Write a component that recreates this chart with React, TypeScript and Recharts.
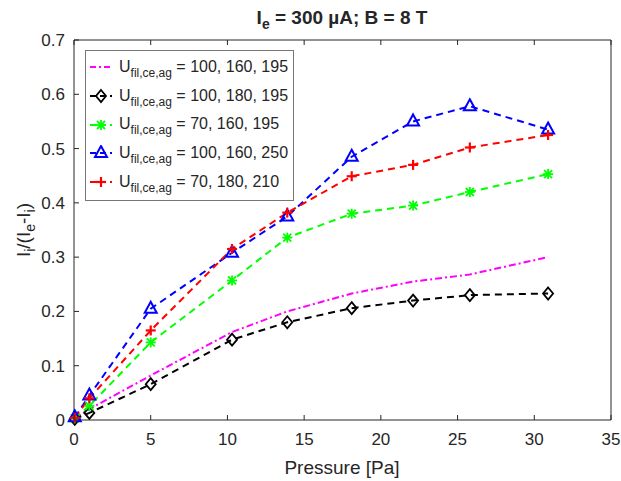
import { LineChart, Line, XAxis, YAxis, Legend, Customized } from "recharts";

const pressure = [0.05, 1, 5, 10.3, 13.9, 18.1, 22.1, 25.8, 30.9];
const uMagenta = [0.003, 0.02, 0.082, 0.162, 0.2, 0.233, 0.255, 0.268, 0.3];
const uBlack = [0.002, 0.013, 0.066, 0.148, 0.18, 0.206, 0.22, 0.23, 0.233];
const uGreen = [0.003, 0.026, 0.143, 0.257, 0.336, 0.38, 0.395, 0.42, 0.453];
const uBlue = [0.005, 0.045, 0.205, 0.308, 0.375, 0.485, 0.55, 0.578, 0.535];
const uRed = [0.004, 0.04, 0.165, 0.315, 0.382, 0.449, 0.47, 0.502, 0.525];

const legendLabels = ["100, 160, 195", "100, 180, 195", "70, 160, 195", "100, 160, 250", "70, 180, 210"];
const xTicks = [0, 5, 10, 15, 20, 25, 30, 35];
const yTicks = [0, 0.1, 0.2, 0.3, 0.4, 0.5, 0.6, 0.7];

const FONT = "'Liberation Sans', Arial, Helvetica, sans-serif";
const INK = "#262626";
const X_MARGIN = 13;
const Y_MARGIN = 9;

const chartData = pressure.map((p, i) => ({
  p,
  magenta: uMagenta[i],
  black: uBlack[i],
  green: uGreen[i],
  blue: uBlue[i],
  red: uRed[i],
}));

type MarkerKind = "none" | "diamond" | "asterisk" | "triangle" | "plus";

const series: { key: string; color: string; marker: MarkerKind; dash: string }[] = [
  { key: "magenta", color: "#ff00ff", marker: "none", dash: "7 3 2 3" },
  { key: "black", color: "#000000", marker: "diamond", dash: "7 5" },
  { key: "green", color: "#00ff00", marker: "asterisk", dash: "7 5" },
  { key: "blue", color: "#0000ff", marker: "triangle", dash: "7 5" },
  { key: "red", color: "#ff0000", marker: "plus", dash: "7 5" },
];

function Marker({ kind, cx, cy, color }: { kind: MarkerKind; cx: number; cy: number; color: string }) {
  if (kind === "diamond") {
    return (
      <polygon
        points={`${cx},${cy - 6} ${cx + 5},${cy} ${cx},${cy + 6} ${cx - 5},${cy}`}
        fill="none"
        stroke={color}
        strokeWidth={1.8}
      />
    );
  }
  if (kind === "triangle") {
    return (
      <polygon
        points={`${cx},${cy - 7} ${cx + 6},${cy + 4} ${cx - 6},${cy + 4}`}
        fill="none"
        stroke={color}
        strokeWidth={2}
      />
    );
  }
  if (kind === "plus") {
    return (
      <g stroke={color} strokeWidth={2.2}>
        <line x1={cx - 5} x2={cx + 5} y1={cy} y2={cy} />
        <line x1={cx} x2={cx} y1={cy - 5} y2={cy + 5} />
      </g>
    );
  }
  if (kind === "asterisk") {
    return (
      <g stroke={color} strokeWidth={1.8}>
        <line x1={cx - 5} x2={cx + 5} y1={cy} y2={cy} />
        <line x1={cx} x2={cx} y1={cy - 5} y2={cy + 5} />
        <line x1={cx - 4} x2={cx + 4} y1={cy - 4} y2={cy + 4} />
        <line x1={cx - 4} x2={cx + 4} y1={cy + 4} y2={cy - 4} />
      </g>
    );
  }
  return null;
}

const renderDot = (kind: MarkerKind, color: string) => (props: any) => (
  <g key={`${kind}-${props.index}`}>
    <Marker kind={kind} cx={props.cx} cy={props.cy} color={color} />
  </g>
);

const BottomTick = (props: any) => {
  const { x, y, payload } = props;
  const axisY = y - X_MARGIN;
  return (
    <g>
      <line x1={x} x2={x} y1={axisY} y2={axisY - 5} stroke={INK} />
      <text x={x} y={y} dy="0.71em" textAnchor="middle" fontSize={17} fill={INK} fontFamily={FONT}>
        {payload.value}
      </text>
    </g>
  );
};

const TopTick = (props: any) => (
  <line x1={props.x} x2={props.x} y1={props.y} y2={props.y + 5} stroke={INK} />
);

const LeftTick = (props: any) => {
  const { x, y, payload } = props;
  const axisX = x + Y_MARGIN;
  return (
    <g>
      <line x1={axisX} x2={axisX + 5} y1={y} y2={y} stroke={INK} />
      <text x={x} y={y} dy="0.355em" textAnchor="end" fontSize={17} fill={INK} fontFamily={FONT}>
        {String(payload.value)}
      </text>
    </g>
  );
};

const RightTick = (props: any) => (
  <line x1={props.x} x2={props.x - 5} y1={props.y} y2={props.y} stroke={INK} />
);

function LegendBox() {
  return (
    <div
      style={{
        border: "1px solid #777",
        background: "#fff",
        padding: "2px 5px 4px 3px",
        fontFamily: FONT,
        color: INK,
        whiteSpace: "nowrap",
      }}
    >
      {series.map((s, i) => (
        <div key={s.key} style={{ height: 28.7, display: "flex", alignItems: "center" }}>
          <svg width={24} height={16}>
            <line x1={1} x2={23} y1={8} y2={8} stroke={s.color} strokeWidth={2} strokeDasharray={s.marker === "none" ? "6 3 2 3" : "6 4"} />
            <Marker kind={s.marker} cx={12} cy={8} color={s.color} />
          </svg>
          <span style={{ marginLeft: 6, fontSize: 16, lineHeight: "16px" }}>
            U
            <span style={{ fontSize: 12, position: "relative", top: 5 }}>fil,ce,ag</span> = {legendLabels[i]}
          </span>
        </div>
      ))}
    </div>
  );
}

function Labels() {
  return (
    <g fontFamily={FONT} fill={INK}>
      <text x={342} y={24} textAnchor="middle" fontWeight="bold" fontSize={19}>
        I<tspan dy={5} fontSize={14}>e</tspan>
        <tspan dy={-5}> = 300 µA; B = 8 T</tspan>
      </text>
      <text transform="translate(30,230) rotate(-90)" textAnchor="middle" fontSize={19}>
        I<tspan dy={5} fontSize={14}>i</tspan>
        <tspan dy={-5}>/(I</tspan>
        <tspan dy={5} fontSize={14}>e</tspan>
        <tspan dy={-5}>-I</tspan>
        <tspan dy={5} fontSize={14}>i</tspan>
        <tspan dy={-5}>)</tspan>
      </text>
      <text x={342} y={474} textAnchor="middle" fontSize={19}>
        Pressure [Pa]
      </text>
    </g>
  );
}

export default function App() {
  return (
    <div style={{ position: "absolute", left: 0, top: 0, background: "#fff" }}>
      <LineChart width={621} height={481} data={chartData} margin={{ top: 39, right: 9, bottom: 0, left: 0 }}>
        <XAxis
          dataKey="p"
          type="number"
          domain={[0, 35]}
          ticks={xTicks}
          interval={0}
          height={61}
          tickSize={0}
          tickMargin={X_MARGIN}
          axisLine={{ stroke: INK }}
          tick={<BottomTick />}
        />
        <XAxis
          xAxisId="top"
          dataKey="p"
          type="number"
          orientation="top"
          domain={[0, 35]}
          ticks={xTicks}
          interval={0}
          height={1}
          tickSize={0}
          tickMargin={0}
          axisLine={{ stroke: INK }}
          tick={<TopTick />}
        />
        <YAxis
          type="number"
          domain={[0, 0.7]}
          ticks={yTicks}
          interval={0}
          width={74}
          tickSize={0}
          tickMargin={Y_MARGIN}
          axisLine={{ stroke: INK }}
          tick={<LeftTick />}
        />
        <YAxis
          yAxisId="right"
          type="number"
          orientation="right"
          domain={[0, 0.7]}
          ticks={yTicks}
          interval={0}
          width={1}
          tickSize={0}
          tickMargin={0}
          axisLine={{ stroke: INK }}
          tick={<RightTick />}
        />
        {series.map((s) => (
          <Line
            key={s.key}
            type="linear"
            dataKey={s.key}
            stroke={s.color}
            strokeWidth={2}
            strokeDasharray={s.dash}
            dot={s.marker === "none" ? false : renderDot(s.marker, s.color)}
            activeDot={false}
            isAnimationActive={false}
          />
        ))}
        <Legend
          layout="horizontal"
          verticalAlign="middle"
          align="center"
          content={() => <LegendBox />}
          wrapperStyle={{ left: 85, top: 50, width: "auto", height: "auto" }}
        />
        <Customized component={Labels} />
      </LineChart>
    </div>
  );
}
